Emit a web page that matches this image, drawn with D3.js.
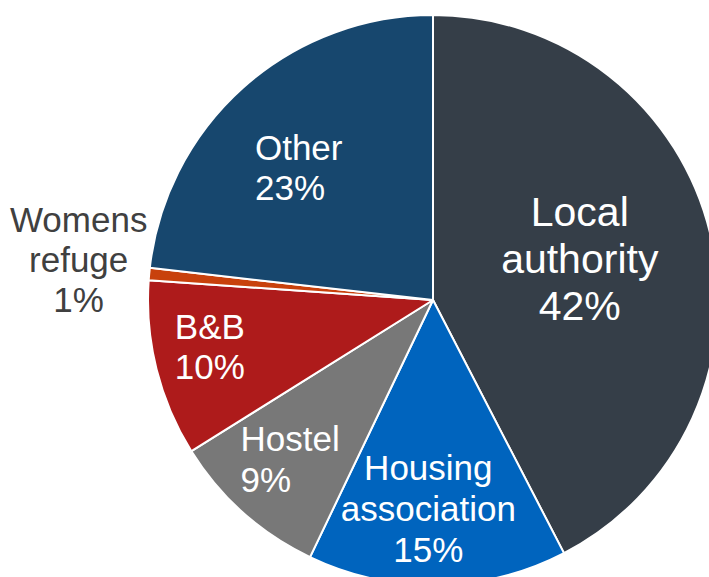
<!DOCTYPE html>
<html>
<head>
  <title>Temporary accommodation pie</title>
  <style>
    body { margin: 0; background-color: white; }
    svg { display: block; }
  </style>
</head>
<body>
  <div id="chart-container">
    <svg width="709" height="577"></svg>
  </div>

  <script src="https://d3js.org/d3.v7.min.js"></script>
  <script>
    const categories = ["Local authority", "Housing association", "Hostel", "B&B", "Womens refuge", "Other"];
    const values = [42.4, 14.7, 9.0, 10.0, 0.7, 23.2];
    const percentLabels = ["42%", "15%", "9%", "10%", "1%", "23%"];
    const colors = ["#353e48", "#0064be", "#787878", "#ae1b1b", "#c8410c", "#17476e"];

    const width = 709;
    const height = 577;
    const cx = 433, cy = 300, radius = 285;

    // label placement: fraction of radius along mid angle, nudges, font, line height, alignment
    const labelPos = [
      { r: 0.53, dx: 0, dy: -5, size: 41, lh: 47, fill: "white", align: "middle", lines: ["Local", "authority"] },
      { r: 0.74, dx: -8, dy: -2, size: 35, lh: 41, fill: "white", align: "middle", lines: ["Housing", "association"] },
      { r: 0.79, dx: 7, dy: -8, size: 35, lh: 41, fill: "white", align: "start", lines: ["Hostel"] },
      { r: 0.80, dx: -2, dy: -8, size: 35, lh: 40, fill: "white", align: "start", lines: ["B&B"] },
      { r: 1.245, dx: -1, dy: -8, size: 35, lh: 40, fill: "#404040", align: "middle", lines: ["Womens", "refuge"] },
      { r: 0.66, dx: -9, dy: 8, size: 35, lh: 40, fill: "white", align: "start", lines: ["Other"] }
    ];

    const svg = d3.select("#chart-container svg");
    const g = svg.append("g").attr("transform", `translate(${cx},${cy})`);

    const pie = d3.pie().sort(null).value(d => d);
    const arcs = pie(values);
    const arc = d3.arc().innerRadius(0).outerRadius(radius);

    g.selectAll("path")
      .data(arcs)
      .enter()
      .append("path")
      .attr("d", arc)
      .attr("fill", (d, i) => colors[i])
      .attr("stroke", "white")
      .attr("stroke-width", 2)
      .attr("stroke-linejoin", "round");

    const labels = g.selectAll("text")
      .data(arcs)
      .enter()
      .append("text")
      .attr("text-anchor", (d, i) => labelPos[i].align)
      .attr("font-family", "'Liberation Sans', Arial, sans-serif")
      .attr("font-size", (d, i) => labelPos[i].size)
      .attr("fill", (d, i) => labelPos[i].fill);

    labels.each(function (d, i) {
      const p = labelPos[i];
      const a = (d.startAngle + d.endAngle) / 2;
      const x = Math.sin(a) * radius * p.r + p.dx;
      const y = -Math.cos(a) * radius * p.r + p.dy;
      const lines = p.lines.concat([percentLabels[i]]);
      const n = lines.length;
      const spans = d3.select(this).selectAll("tspan")
        .data(lines)
        .enter()
        .append("tspan")
        .attr("x", x)
        .attr("y", (t, k) => y + (k - (n - 1) / 2) * p.lh + p.size * 0.34)
        .text(t => t);
      if (p.align === "start") {
        // left-align the block around its centre
        let w = 0;
        spans.each(function () { w = Math.max(w, this.getComputedTextLength()); });
        spans.attr("x", x - w / 2);
      }
    });
  </script>
</body>
</html>
